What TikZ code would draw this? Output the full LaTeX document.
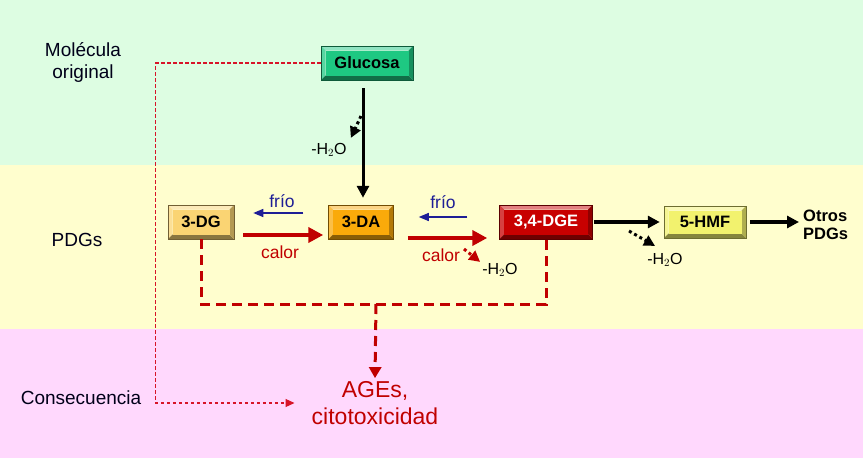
\documentclass[tikz,border=0pt]{standalone}
\usepackage{fontspec}
\setmainfont{Liberation Sans}
\usetikzlibrary{arrows.meta,calc}
\definecolor{bgG}{RGB}{221,253,226}
\definecolor{bgY}{RGB}{255,254,206}
\definecolor{bgP}{RGB}{255,216,253}
\definecolor{cGluc}{RGB}{30,200,130}
\definecolor{cDG}{RGB}{250,212,115}
\definecolor{cDA}{RGB}{250,170,10}
\definecolor{cDGE}{RGB}{200,0,0}
\definecolor{cHMF}{RGB}{242,242,110}
\definecolor{dred}{RGB}{192,0,0}
\definecolor{lred}{RGB}{215,20,40}
\definecolor{dblue}{RGB}{30,30,150}
\tikzset{
  fs/.style={font=\fontsize{#1}{#1}\selectfont},
  lbl/.style={font=\fontsize{19}{22}\selectfont, align=center, text=black!90!blue},
  bev/.style={minimum height=34pt, inner sep=0pt, font=\bfseries\fontsize{16.5}{16.5}\selectfont,
    path picture={
      \path (path picture bounding box.south west) coordinate (sw)
            (path picture bounding box.north east) coordinate (ne)
            (path picture bounding box.north west) coordinate (nw)
            (path picture bounding box.south east) coordinate (se);
      \fill[#1!50!white] (nw) -- (ne) -- ([shift={(-4.5pt,-4.5pt)}]ne) -- ([shift={(4.5pt,-4.5pt)}]nw) -- cycle;
      \fill[#1!75!white] (nw) -- (sw) -- ([shift={(4.5pt,4.5pt)}]sw) -- ([shift={(4.5pt,-4.5pt)}]nw) -- cycle;
      \fill[#1!55!black] (sw) -- (se) -- ([shift={(-4.5pt,4.5pt)}]se) -- ([shift={(4.5pt,4.5pt)}]sw) -- cycle;
      \fill[#1!72!black] (se) -- (ne) -- ([shift={(-4.5pt,-4.5pt)}]ne) -- ([shift={(-4.5pt,4.5pt)}]se) -- cycle;
      \fill[#1] ([shift={(4.5pt,4.5pt)}]sw) rectangle ([shift={(-4.5pt,-4.5pt)}]ne);
    }, draw=#1!45!black, line width=0.5pt},
  blk/.style={line width=3pt, -{Triangle[length=12pt,width=12pt]}},
  dotarr/.style={line width=3pt, dash pattern=on 3pt off 3pt, -{Triangle[length=11pt,width=11pt]}},
  coldarr/.style={dblue, line width=1.3pt, -{Triangle[length=10pt,width=8pt]}},
  heatarr/.style={dred, line width=4.5pt, -{Triangle[length=15pt,width=15pt]}},
  reddash/.style={dred, line width=3pt, dash pattern=on 10pt off 6pt},
  thindash/.style={lred, line width=1.1pt, dash pattern=on 3.5pt off 2.5pt},
  water/.style={fs=16, inner sep=1pt},
}
\begin{document}
\begin{tikzpicture}[x=1pt,y=-1pt]
\useasboundingbox (0,0) rectangle (863,458);
\fill[bgG] (0,0) rectangle (863,165);
\fill[bgY] (0,165) rectangle (863,329);
\fill[bgP] (0,329) rectangle (863,458);

% row labels
\node[lbl] (lmol) at (83,62) {Molécula\\original};
\node[lbl] (lpdg) at (77,240) {PDGs};
\node[lbl] (lcon) at (81,398) {Consecuencia};

% boxes
\node[bev=cGluc, minimum width=92pt] (gluc) at (367,63) {Glucosa};
\node[bev=cDG, minimum width=66pt] (dg) at (201,222) {3-DG};
\node[bev=cDA, minimum width=65pt] (da) at (361,222) {3-DA};
\node[bev=cDGE, minimum width=93pt, text=white] (dge) at (546,222) {3,4-DGE};
\node[bev=cHMF, minimum width=82pt, minimum height=32pt] (hmf) at (705,222) {5-HMF};
\node[anchor=west, align=left, inner sep=1pt, font=\bfseries\fontsize{16.5}{18}\selectfont] (otros) at (802,225) {Otros\\PDGs};

\node[dred, align=center, font=\fontsize{23}{27}\selectfont, inner sep=1pt] (ages) at (375,403) {AGEs,\\citotoxicidad};

% glucose to 3-DA
\draw[blk] ($(gluc.south)+(-4,8)$) -- ($(da.north)+(2,-7)$);
\node[water] (w1) at (329,150) {-H$_2$O};
\coordinate (d1) at (361,116);
\draw[dotarr] (d1) -- ($(w1.north east)+(3,-4)$);

% 3-DG <-> 3-DA
\draw[coldarr] ($(da.west)+(-25,-9)$) -- ($(dg.east)+(19,-9)$);
\node[dblue, fs=17.5] (f1) at (282,201) {frío};
\draw[heatarr] ($(dg.east)+(9,13)$) -- ($(da.west)+(-5,13)$);
\node[dred, fs=17.5] (c1) at (280,252) {calor};

% 3-DA <-> 3,4-DGE
\draw[coldarr] ($(dge.west)+(-32,-5)$) -- ($(da.east)+(25,-5)$);
\node[dblue, fs=17.5] (f2) at (443,202) {frío};
\draw[heatarr] ($(da.east)+(14,16)$) -- ($(dge.west)+(-12,16)$);
\node[dred, fs=17.5] (c2) at (441,255) {calor};
\node[water] (w2) at (500,270) {-H$_2$O};
\coordinate (d2) at (464,249);
\draw[dotarr, dred] (d2) -- ($(w2.north west)+(-1,0)$);

% 3,4-DGE -> 5-HMF -> Otros
\draw[blk, line width=4pt] ($(dge.east)+(1,0)$) -- ($(hmf.west)+(-4,0)$);
\node[water] (w3) at (665,260) {-H$_2$O};
\coordinate (d3) at (629,231);
\draw[dotarr] (d3) -- ($(w3.north)+(-10,-6)$);
\draw[blk, line width=4pt] ($(hmf.east)+(4,0)$) -- ($(hmf.east -| otros.west)+(-3,0)$);

% dashed red collector
\coordinate (jn) at (376,304);
\draw[reddash] (dg.south) -- (dg.south |- jn) -| (dge.south);
\draw[reddash, -{Triangle[length=11pt,width=12pt]}] (jn) -- ($(ages.north)+(0,-2)$);

% thin dashed from glucose to consequence
\draw[thindash, -{Triangle[length=9pt,width=8pt]}] (gluc.west) -- ++(-165,0) |- ($(ages.west)+(-16,0)$);
\end{tikzpicture}
\end{document}
